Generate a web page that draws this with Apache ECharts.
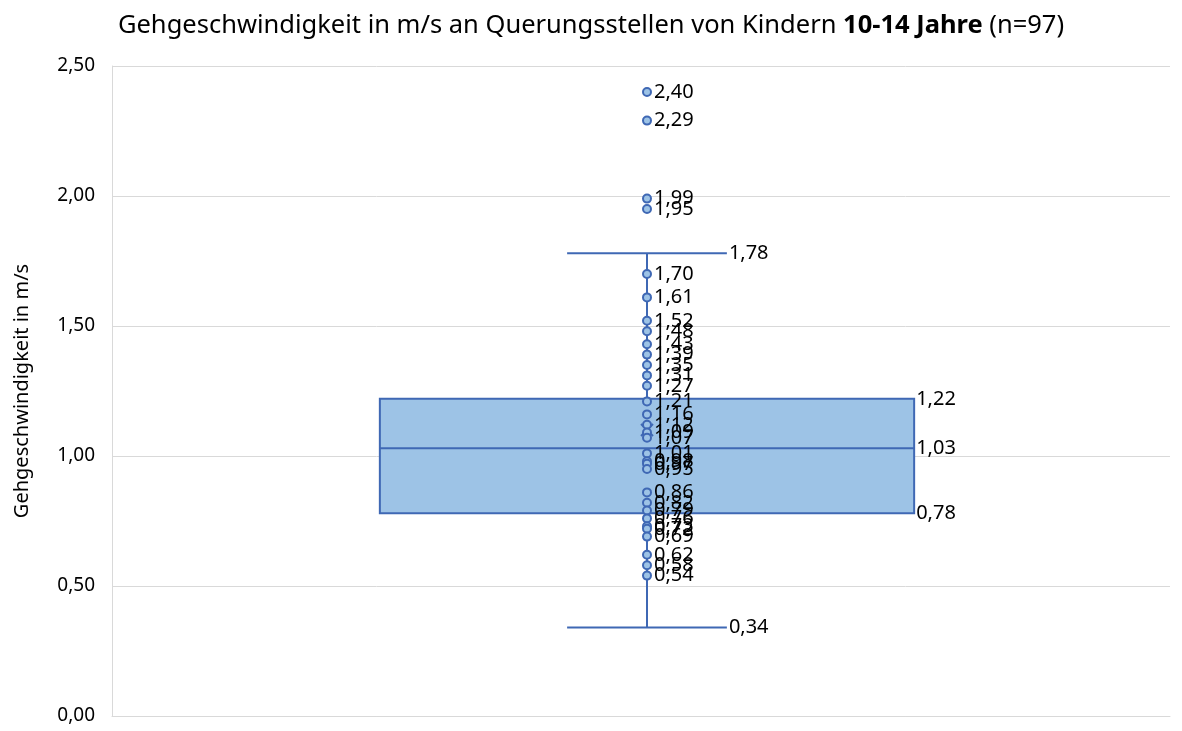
<!DOCTYPE html>
<html>
<head>
<meta charset="utf-8">
<script src="https://cdn.jsdelivr.net/npm/echarts@6/dist/echarts.min.js"></script>
<style>
  html, body { margin: 0; padding: 0; background: #fff; }
  #main { width: 1182px; height: 731px; }
</style>
</head>
<body>
<div id="main"></div>
<script>
var categories = ['10-14 Jahre'];
// min whisker, Q1, median, Q3, max whisker
var boxStats = [0.34, 0.78, 1.03, 1.22, 1.78];
var meanValue = 1.10;
var points = [2.40, 2.29, 1.99, 1.95, 1.70, 1.61, 1.52, 1.48, 1.43, 1.39, 1.35, 1.31,
  1.27, 1.21, 1.16, 1.12, 1.09, 1.07, 1.01, 0.98, 0.97, 0.95, 0.86, 0.82, 0.79,
  0.76, 0.73, 0.72, 0.69, 0.62, 0.58, 0.54];
var yTicks = [0, 0.5, 1, 1.5, 2, 2.5];

var lineColor = '#3F68B4';
var fillColor = '#9DC3E6';
var font = 'Noto Sans';

function fmt(v) {
  return v.toFixed(2).replace('.', ',');
}

var myChart = echarts.init(document.getElementById('main'));

var option = {
  animation: false,
  title: {
    text: '{n|Gehgeschwindigkeit in m/s an Querungsstellen von Kindern }{b|10-14 Jahre}{n| (n=97)}',
    left: 'center',
    top: 8,
    textStyle: {
      fontWeight: 'normal',
      rich: {
        n: { fontFamily: font, fontSize: 25.5, fontWeight: 'normal', color: '#000' },
        b: { fontFamily: font, fontSize: 25.5, fontWeight: 'bold', color: '#000' }
      }
    }
  },
  grid: {
    left: 112,
    right: 12,
    top: 66,
    bottom: 15
  },
  xAxis: {
    type: 'category',
    data: categories,
    axisLabel: { show: false },
    axisTick: { show: false },
    axisLine: { show: true, lineStyle: { color: '#d9d9d9' } }
  },
  yAxis: {
    type: 'value',
    min: yTicks[0],
    max: yTicks[yTicks.length - 1],
    interval: 0.5,
    name: 'Gehgeschwindigkeit in m/s',
    nameLocation: 'middle',
    nameRotate: 90,
    nameGap: 80,
    nameTextStyle: { fontFamily: font, fontSize: 20, color: '#000' },
    axisLine: { show: true, lineStyle: { color: '#d9d9d9' } },
    axisTick: { show: false },
    axisLabel: {
      margin: 17,
      fontFamily: font,
      fontSize: 19,
      color: '#000',
      formatter: fmt
    },
    splitLine: { lineStyle: { color: '#d9d9d9', width: 1 } }
  },
  series: [
    {
      type: 'custom',
      name: 'box',
      data: [[0].concat(boxStats)],
      renderItem: function (params, api) {
        var x = api.value(0);
        var band = api.size([1, 0])[0];
        var pMin = api.coord([x, api.value(1)]);
        var pQ1 = api.coord([x, api.value(2)]);
        var pMed = api.coord([x, api.value(3)]);
        var pQ3 = api.coord([x, api.value(4)]);
        var pMax = api.coord([x, api.value(5)]);
        var cx = pMed[0] + 6;
        var boxW = band * 0.505;
        var capW = band * 0.151;
        var ls = { stroke: lineColor, lineWidth: 2 };
        function label(px, py, v) {
          return {
            type: 'text',
            x: px, y: py,
            style: {
              text: fmt(v), fill: '#000', font: '20px "Noto Sans"',
              textAlign: 'left', textVerticalAlign: 'middle'
            },
            z2: 10
          };
        }
        return {
          type: 'group',
          children: [
            { type: 'line', shape: { x1: cx, y1: pMin[1], x2: cx, y2: pQ1[1] }, style: ls },
            { type: 'line', shape: { x1: cx, y1: pQ3[1], x2: cx, y2: pMax[1] }, style: ls },
            { type: 'line', shape: { x1: cx - capW / 2, y1: pMin[1], x2: cx + capW / 2, y2: pMin[1] }, style: ls },
            { type: 'line', shape: { x1: cx - capW / 2, y1: pMax[1], x2: cx + capW / 2, y2: pMax[1] }, style: ls },
            {
              type: 'rect',
              shape: { x: cx - boxW / 2, y: pQ3[1], width: boxW, height: pQ1[1] - pQ3[1] },
              style: { fill: fillColor, stroke: lineColor, lineWidth: 2 }
            },
            { type: 'line', shape: { x1: cx - boxW / 2, y1: pMed[1], x2: cx + boxW / 2, y2: pMed[1] }, style: ls },
            label(cx + capW / 2 + 2, pMin[1], api.value(1)),
            label(cx + capW / 2 + 2, pMax[1], api.value(5)),
            label(cx + boxW / 2 + 2, pQ1[1], api.value(2)),
            label(cx + boxW / 2 + 2, pMed[1], api.value(3)),
            label(cx + boxW / 2 + 2, pQ3[1], api.value(4))
          ]
        };
      },
      z: 2
    },
    {
      type: 'custom',
      name: 'mean',
      data: [[0, meanValue]],
      renderItem: function (params, api) {
        var p = api.coord([api.value(0), api.value(1)]);
        var cx = p[0] + 6, s = 6;
        var ls = { stroke: lineColor, lineWidth: 2 };
        return {
          type: 'group',
          children: [
            { type: 'line', shape: { x1: cx - s, y1: p[1] - s, x2: cx + s, y2: p[1] + s }, style: ls },
            { type: 'line', shape: { x1: cx - s, y1: p[1] + s, x2: cx + s, y2: p[1] - s }, style: ls }
          ]
        };
      },
      z: 3
    },
    {
      type: 'scatter',
      name: 'points',
      data: points.map(function (v) { return [0, v]; }),
      symbol: 'circle',
      symbolSize: 8,
      symbolOffset: [6, 0],
      itemStyle: { color: fillColor, borderColor: lineColor, borderWidth: 2, opacity: 1 },
      label: {
        show: true,
        position: 'right',
        distance: 2,
        fontFamily: font,
        fontSize: 20,
        color: '#000',
        opacity: 1,
        formatter: function (p) { return fmt(p.value[1]); }
      },
      labelLayout: { hideOverlap: false },
      z: 4
    }
  ]
};

myChart.setOption(option);
</script>
</body>
</html>
